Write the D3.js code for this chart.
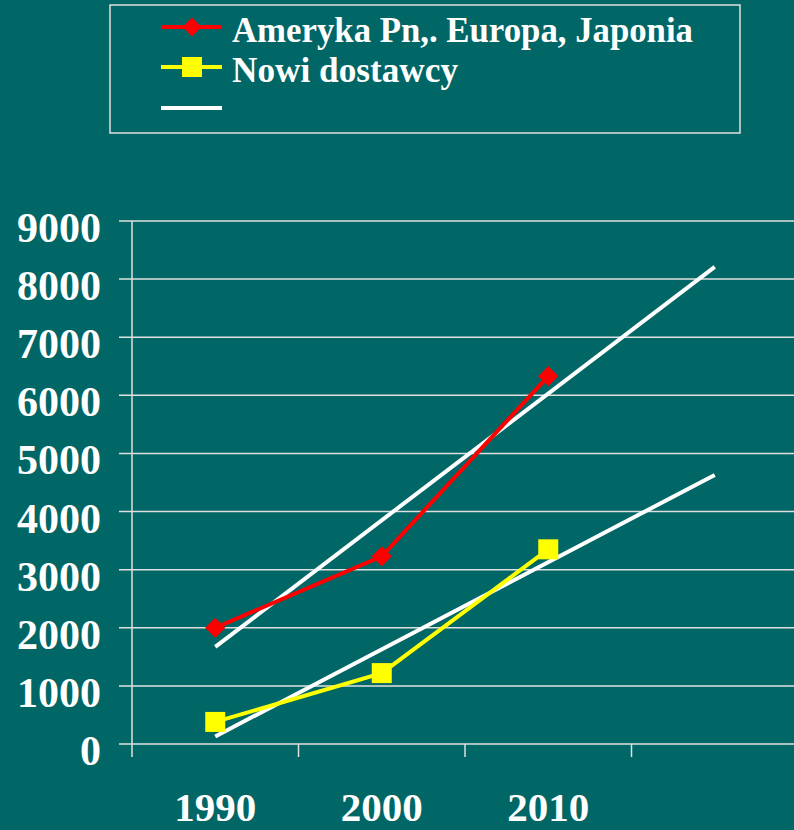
<!DOCTYPE html>
<html><head><meta charset="utf-8">
<script src="https://cdn.jsdelivr.net/npm/d3@7"></script>
<style>html,body{margin:0;padding:0;background:#006666;overflow:hidden}</style>
</head><body>
<svg id="c" width="794" height="830"></svg>
<script>
const categories = ["1990", "2000", "2010", ""];
const seriesNames = ["Ameryka Pn,. Europa, Japonia", "Nowi dostawcy"];
const redValues = [2000, 3230, 6330];
const yellowValues = [380, 1220, 3350];
// trend lines read at first and last category
const trendCats = ["1990", ""];
const redTrend = [1670, 8210];
const yellowTrend = [130, 4630];
const yTicks = [0, 1000, 2000, 3000, 4000, 5000, 6000, 7000, 8000, 9000];

const FONT = '"Liberation Serif", "Times New Roman", Tinos, serif';
const svg = d3.select("#c");
svg.append("rect").attr("width", 794).attr("height", 830).attr("fill", "#006666");

const plotL = 132, plotR = 798, plotT = 221, plotB = 744;
const x = d3.scaleBand().domain(categories).range([plotL, plotR]);
const y = d3.scaleLinear().domain([0, 9000]).range([plotB, plotT]);
const cx = c => x(c) + x.bandwidth() / 2;

// gridlines
svg.append("g").selectAll("line").data(yTicks).join("line")
  .attr("x1", 119).attr("x2", 794)
  .attr("y1", d => y(d)).attr("y2", d => y(d))
  .attr("stroke", "#e0e0e0").attr("stroke-width", 1.5);
// y axis line
svg.append("line").attr("x1", plotL).attr("x2", plotL).attr("y1", plotT).attr("y2", 757)
  .attr("stroke", "#e0e0e0").attr("stroke-width", 1.5);
// x ticks (band boundaries)
svg.append("g").selectAll("line").data(categories.slice(1)).join("line")
  .attr("x1", d => x(d)).attr("x2", d => x(d)).attr("y1", plotB).attr("y2", 757)
  .attr("stroke", "#e0e0e0").attr("stroke-width", 1.5);

// y labels
svg.append("g").selectAll("text").data(yTicks).join("text")
  .attr("x", 101).attr("y", d => y(d) + 21)
  .attr("text-anchor", "end").attr("fill", "white")
  .style("font-family", FONT).style("font-weight", "bold").style("font-size", "42px")
  .text(d => d);
// x labels
svg.append("g").selectAll("text").data(categories.filter(c => c)).join("text")
  .attr("x", d => cx(d)).attr("y", 821)
  .attr("text-anchor", "middle").attr("fill", "white")
  .style("font-family", FONT).style("font-weight", "bold").style("font-size", "41px")
  .text(d => d);

const line = d3.line().x(d => d[0]).y(d => d[1]);
// trend lines
[redTrend, yellowTrend].forEach(t => {
  svg.append("path").attr("d", line(trendCats.map((c, i) => [cx(c), y(t[i])])))
    .attr("fill", "none").attr("stroke", "white").attr("stroke-width", 4);
});
// red series
const redPts = redValues.map((v, i) => [cx(categories[i]), y(v)]);
svg.append("path").attr("d", line(redPts)).attr("fill", "none").attr("stroke", "#ff0000").attr("stroke-width", 4);
const diamond = d3.symbol().type(d3.symbolDiamond2).size(260);
svg.append("g").selectAll("path").data(redPts).join("path")
  .attr("transform", d => `translate(${d[0]},${d[1]})`).attr("d", diamond).attr("fill", "#ff0000");
// yellow series
const yelPts = yellowValues.map((v, i) => [cx(categories[i]), y(v)]);
svg.append("path").attr("d", line(yelPts)).attr("fill", "none").attr("stroke", "#ffff00").attr("stroke-width", 4);
svg.append("g").selectAll("rect").data(yelPts).join("rect")
  .attr("x", d => d[0] - 10).attr("y", d => d[1] - 10).attr("width", 20).attr("height", 20).attr("fill", "#ffff00");

// legend
const lg = svg.append("g");
lg.append("rect").attr("x", 110).attr("y", 5).attr("width", 630).attr("height", 128)
  .attr("fill", "none").attr("stroke", "#e0e0e0").attr("stroke-width", 1.5);
const legItems = [
  {name: seriesNames[0], color: "#ff0000", marker: "diamond", y: 27, len: 461},
  {name: seriesNames[1], color: "#ffff00", marker: "square", y: 67, len: 226},
  {name: "", color: "white", marker: null, y: 108}
];
legItems.forEach(it => {
  lg.append("line").attr("x1", 161).attr("x2", 222).attr("y1", it.y).attr("y2", it.y)
    .attr("stroke", it.color).attr("stroke-width", 4);
  if (it.marker === "diamond") {
    lg.append("path").attr("transform", `translate(192,${it.y})`)
      .attr("d", d3.symbol().type(d3.symbolDiamond2).size(230)).attr("fill", it.color);
  } else if (it.marker === "square") {
    lg.append("rect").attr("x", 182).attr("y", it.y - 10).attr("width", 20).attr("height", 20).attr("fill", it.color);
  }
  if (it.name) lg.append("text").attr("x", 232).attr("y", it.y + 15)
    .attr("fill", "white")
    .style("font-family", FONT).style("font-weight", "bold").style("font-size", "35px")
    .attr("textLength", it.len).attr("lengthAdjust", "spacingAndGlyphs")
    .text(it.name);
});
</script>
</body></html>
